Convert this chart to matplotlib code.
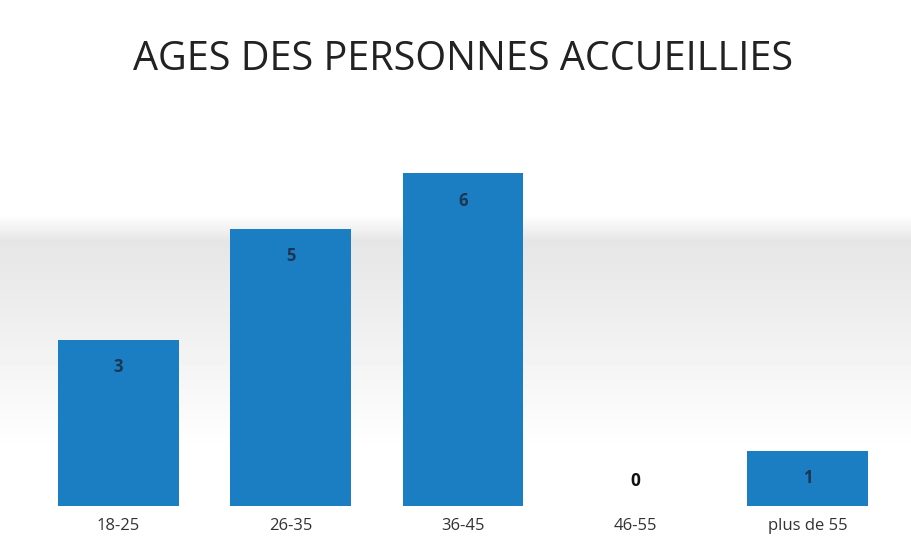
import matplotlib
matplotlib.use("Agg")
import matplotlib.pyplot as plt
import numpy as np

categories = ["18-25", "26-35", "36-45", "46-55", "plus de 55"]
values = [3, 5, 6, 0, 1]
title = "AGES DES PERSONNES ACCUEILLIES"

plt.rcParams['font.family'] = ['Open Sans', 'DejaVu Sans']

fig = plt.figure(figsize=(9.12, 5.57), dpi=100)

# subtle scanned-background gray band
bg = fig.add_axes([0, 0, 1, 1], zorder=-5)
h = 557
rows = np.arange(h)
shade = np.ones(h)
for i, r in enumerate(rows):
    if 215 <= r <= 240:
        shade[i] = 1 - 0.10 * (r - 215) / 25
    elif 240 < r <= 330:
        shade[i] = 0.90 + 0.04 * (r - 240) / 90
    elif 330 < r <= 450:
        shade[i] = 0.94 + 0.06 * (r - 330) / 120
grad = np.tile(shade[:, None], (1, 912))
bg.imshow(grad, cmap='gray', vmin=0, vmax=1, aspect='auto', extent=[0, 912, 557, 0])
bg.set_axis_off()

ax = fig.add_axes([32 / 912, (557 - 506) / 557, (894 - 32) / 912, (506 - 117.5) / 557])
ax.patch.set_alpha(0)
x = np.arange(len(categories))
bars = ax.bar(x, values, width=0.70, color='#1b7ec2', zorder=2)
ax.set_xlim(-0.5, len(categories) - 0.5)
ax.set_ylim(0, 7)
for xi, v in zip(x, values):
    if v > 0:
        ax.text(xi, v - 0.5, str(v), ha='center', va='center', fontsize=12,
                fontweight='bold', color='#1c3550')
    else:
        ax.text(xi, 0.45, str(v), ha='center', va='center', fontsize=12.5,
                fontweight='bold', color='#111111')
ax.set_xticks(x)
ax.set_xticklabels(categories, fontsize=12, color='#333333')
ax.tick_params(axis='x', length=0, pad=9)
ax.set_yticks([])
for s in ax.spines.values():
    s.set_visible(False)

fig.text(463 / 912, 1 - 60 / 557, title, ha='center', va='center', fontsize=28.5,
         color='#222222')

fig.savefig("out.png", dpi=100)
